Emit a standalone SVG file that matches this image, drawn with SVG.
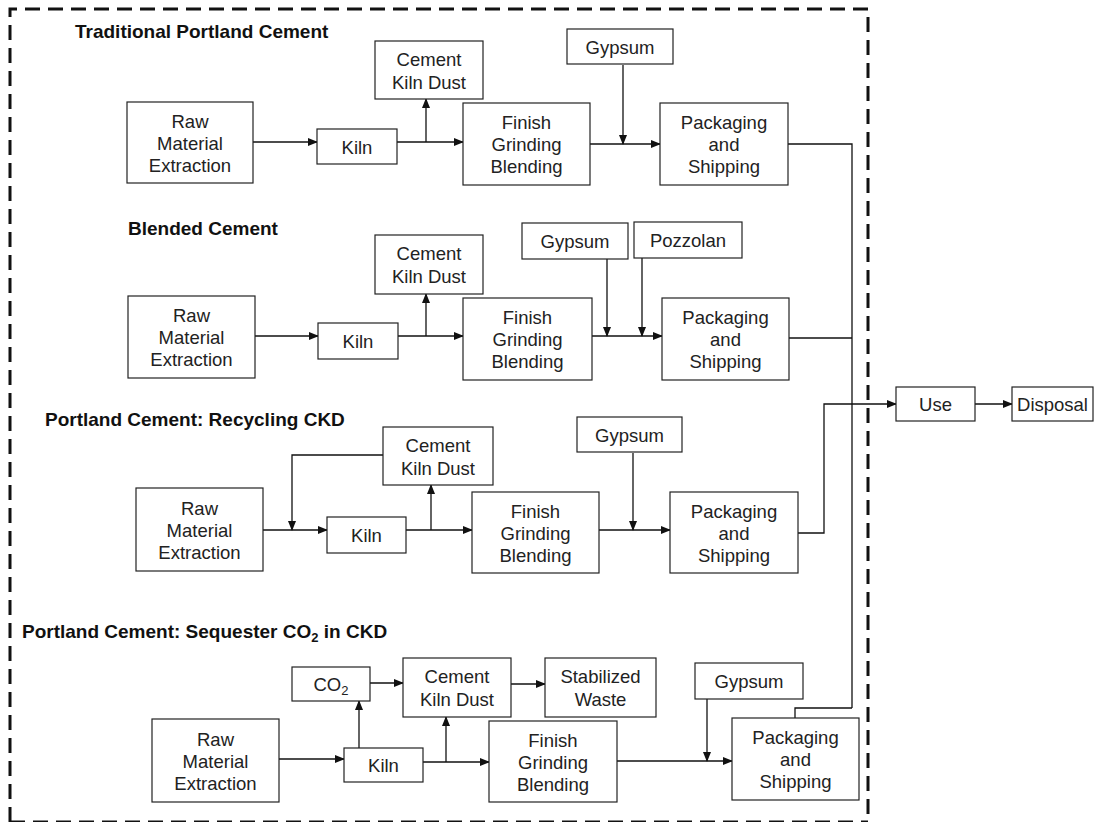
<svg xmlns="http://www.w3.org/2000/svg" width="1108" height="822" viewBox="0 0 1108 822">
<style>
.box{fill:#fff;stroke:#222;stroke-width:1.2}
.t{font-family:"Liberation Sans",Arial,sans-serif;font-size:18.5px;fill:#222;text-anchor:middle}
.h{font-family:"Liberation Sans",Arial,sans-serif;font-size:19px;font-weight:bold;fill:#111}
.c{fill:none;stroke:#111;stroke-width:1.3}
.a{marker-end:url(#ah)}
.border{fill:none;stroke:#111;stroke-width:3;stroke-dasharray:15 8}
</style>
<defs>
<marker id="ah" markerWidth="10" markerHeight="8" refX="9" refY="4" orient="auto" markerUnits="userSpaceOnUse">
<path d="M0,0 L10,4 L0,8 z" fill="#111"/>
</marker>
</defs>
<rect width="1108" height="822" fill="#fff"/>
<g id="border">
<path class="border" d="M10,822 L10,9 L868,9 L868,822"/>
<path class="border" d="M10,822 L868,822"/>
</g>
<g id="titles">
<text class="h" x="75" y="38">Traditional Portland Cement</text>
<text class="h" x="128" y="235">Blended Cement</text>
<text class="h" x="45" y="426">Portland Cement: Recycling CKD</text>
<text class="h" x="22" y="638">Portland Cement: Sequester CO<tspan font-size="13" dy="4">2</tspan><tspan dy="-4"> in CKD</tspan></text>
</g>
<g id="connectors">
<!-- section 1 -->
<path class="c a" d="M253,142 H317"/>
<path class="c a" d="M397,142 H463"/>
<path class="c a" d="M426,142 V99"/>
<path class="c a" d="M623,65 V144"/>
<path class="c a" d="M590,144 H660"/>
<path class="c" d="M788,144 H852 V708"/>
<!-- section 2 -->
<path class="c a" d="M255,336 H318"/>
<path class="c a" d="M398,336 H463"/>
<path class="c a" d="M426,336 V294"/>
<path class="c a" d="M607,259 V336"/>
<path class="c a" d="M642,258 V336"/>
<path class="c a" d="M592,336 H662"/>
<path class="c" d="M789,338 H852"/>
<!-- section 3 -->
<path class="c a" d="M263,530 H327"/>
<path class="c a" d="M383,455 H292 V530"/>
<path class="c a" d="M406,530 H472"/>
<path class="c a" d="M431,530 V485"/>
<path class="c a" d="M633,453 V530"/>
<path class="c a" d="M599,530 H670"/>
<path class="c a" d="M798,533 H824 V404 H896"/>
<path class="c a" d="M975,404 H1012"/>
<!-- section 4 -->
<path class="c a" d="M279,759 H344"/>
<path class="c a" d="M359,748 V701"/>
<path class="c a" d="M370,683 H403"/>
<path class="c a" d="M511,684 H545"/>
<path class="c a" d="M423,762 H489"/>
<path class="c a" d="M446,762 V717"/>
<path class="c a" d="M707,699 V761"/>
<path class="c a" d="M617,761 H732"/>
<path class="c" d="M795,718 V708 H852"/>
</g>
<!-- Section 1 nodes -->
<g id="s1-raw"><rect class="box" x="127" y="102" width="126" height="81"/><text class="t" x="190" y="128">Raw</text><text class="t" x="190" y="150">Material</text><text class="t" x="190" y="172">Extraction</text></g>
<g id="s1-kiln"><rect class="box" x="317" y="129" width="80" height="35"/><text class="t" x="357" y="154">Kiln</text></g>
<g id="s1-ckd"><rect class="box" x="375" y="41" width="108" height="58"/><text class="t" x="429" y="66">Cement</text><text class="t" x="429" y="89">Kiln Dust</text></g>
<g id="s1-finish"><rect class="box" x="463" y="103" width="127" height="82"/><text class="t" x="526.5" y="129">Finish</text><text class="t" x="526.5" y="151">Grinding</text><text class="t" x="526.5" y="173">Blending</text></g>
<g id="s1-gypsum"><rect class="box" x="567" y="29" width="106" height="35"/><text class="t" x="620" y="54">Gypsum</text></g>
<g id="s1-pack"><rect class="box" x="660" y="103" width="128" height="82"/><text class="t" x="724" y="129">Packaging</text><text class="t" x="724" y="151">and</text><text class="t" x="724" y="173">Shipping</text></g>
<!-- Section 2 nodes -->
<g id="s2-raw"><rect class="box" x="128" y="296" width="127" height="82"/><text class="t" x="191.5" y="322">Raw</text><text class="t" x="191.5" y="344">Material</text><text class="t" x="191.5" y="366">Extraction</text></g>
<g id="s2-kiln"><rect class="box" x="318" y="323" width="80" height="36"/><text class="t" x="358" y="348">Kiln</text></g>
<g id="s2-ckd"><rect class="box" x="375" y="235" width="108" height="59"/><text class="t" x="429" y="260">Cement</text><text class="t" x="429" y="283">Kiln Dust</text></g>
<g id="s2-finish"><rect class="box" x="463" y="298" width="129" height="82"/><text class="t" x="527.5" y="324">Finish</text><text class="t" x="527.5" y="346">Grinding</text><text class="t" x="527.5" y="368">Blending</text></g>
<g id="s2-gypsum"><rect class="box" x="522" y="223" width="106" height="36"/><text class="t" x="575" y="248">Gypsum</text></g>
<g id="s2-pozzolan"><rect class="box" x="634" y="222" width="108" height="36"/><text class="t" x="688" y="247">Pozzolan</text></g>
<g id="s2-pack"><rect class="box" x="662" y="298" width="127" height="82"/><text class="t" x="725.5" y="324">Packaging</text><text class="t" x="725.5" y="346">and</text><text class="t" x="725.5" y="368">Shipping</text></g>
<!-- Section 3 nodes -->
<g id="s3-raw"><rect class="box" x="136" y="488" width="127" height="83"/><text class="t" x="199.5" y="515">Raw</text><text class="t" x="199.5" y="537">Material</text><text class="t" x="199.5" y="559">Extraction</text></g>
<g id="s3-kiln"><rect class="box" x="327" y="517" width="79" height="36"/><text class="t" x="366.5" y="542">Kiln</text></g>
<g id="s3-ckd"><rect class="box" x="383" y="427" width="110" height="58"/><text class="t" x="438" y="452">Cement</text><text class="t" x="438" y="475">Kiln Dust</text></g>
<g id="s3-finish"><rect class="box" x="472" y="492" width="127" height="81"/><text class="t" x="535.5" y="518">Finish</text><text class="t" x="535.5" y="540">Grinding</text><text class="t" x="535.5" y="562">Blending</text></g>
<g id="s3-gypsum"><rect class="box" x="577" y="417" width="105" height="35"/><text class="t" x="629.5" y="442">Gypsum</text></g>
<g id="s3-pack"><rect class="box" x="670" y="492" width="128" height="81"/><text class="t" x="734" y="518">Packaging</text><text class="t" x="734" y="540">and</text><text class="t" x="734" y="562">Shipping</text></g>
<g id="use"><rect class="box" x="896" y="387" width="79" height="34"/><text class="t" x="935.5" y="411">Use</text></g>
<g id="disposal"><rect class="box" x="1012" y="387" width="81" height="34"/><text class="t" x="1052.5" y="411">Disposal</text></g>
<!-- Section 4 nodes -->
<g id="s4-raw"><rect class="box" x="152" y="719" width="127" height="83"/><text class="t" x="215.5" y="746">Raw</text><text class="t" x="215.5" y="768">Material</text><text class="t" x="215.5" y="790">Extraction</text></g>
<g id="s4-kiln"><rect class="box" x="344" y="748" width="79" height="34"/><text class="t" x="383.5" y="772">Kiln</text></g>
<g id="s4-co2"><rect class="box" x="292" y="667" width="78" height="34"/><text class="t" x="331" y="691">CO<tspan font-size="13" dy="4">2</tspan></text></g>
<g id="s4-ckd"><rect class="box" x="403" y="658" width="108" height="59"/><text class="t" x="457" y="683">Cement</text><text class="t" x="457" y="706">Kiln Dust</text></g>
<g id="s4-stab"><rect class="box" x="545" y="658" width="111" height="59"/><text class="t" x="600.5" y="683">Stabilized</text><text class="t" x="600.5" y="706">Waste</text></g>
<g id="s4-finish"><rect class="box" x="489" y="721" width="128" height="81"/><text class="t" x="553" y="747">Finish</text><text class="t" x="553" y="769">Grinding</text><text class="t" x="553" y="791">Blending</text></g>
<g id="s4-gypsum"><rect class="box" x="695" y="663" width="108" height="36"/><text class="t" x="749" y="688">Gypsum</text></g>
<g id="s4-pack"><rect class="box" x="732" y="718" width="127" height="82"/><text class="t" x="795.5" y="744">Packaging</text><text class="t" x="795.5" y="766">and</text><text class="t" x="795.5" y="788">Shipping</text></g>
</svg>
